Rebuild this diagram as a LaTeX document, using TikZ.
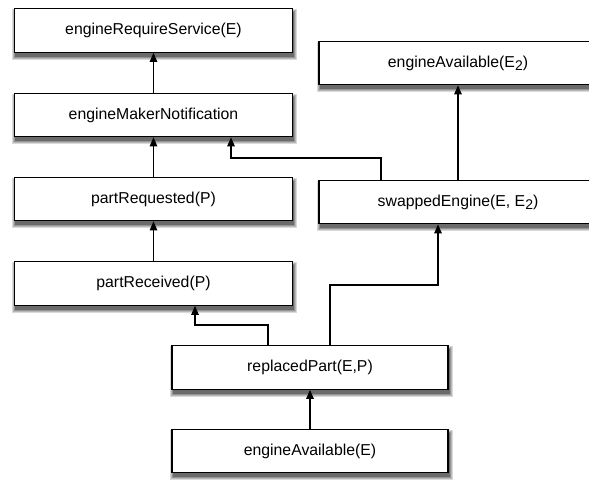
\documentclass[tikz,border=0pt]{standalone}
\usepackage{fontspec}
\setmainfont{Liberation Sans}
\usetikzlibrary{arrows.meta}
\newcommand{\subtwo}{\raisebox{-0.4ex}{\fontsize{14}{14}\selectfont 2}}
\newcommand{\boxshadow}[3]{% center x, center y, half width
  \foreach \dd/\gg in {3.5/15,2.5/28,1.5/42,0.5/58}{
    \fill[black!\gg] ({#1+1-#3-\dd},{#2+4-21.75-\dd}) rectangle ({#1+1+#3+\dd},{#2+4+21.75+\dd});
  }}
\begin{document}
\begin{tikzpicture}[x=1pt,y=-1pt,
  ev/.style={draw=black, line width=1.2pt, fill=white, rectangle,
    minimum width=278pt, minimum height=43.5pt, inner sep=0pt,
    font=\fontsize{15.8}{18}\selectfont},
  wide/.style={minimum width=276pt},
  conn/.style={line width=1.2pt, -{Triangle[length=9pt,width=7.5pt]}}]
\useasboundingbox (0,0) rectangle (589,483);
\fill[white] (0,0) rectangle (589,483);
\boxshadow{153.5}{30.5}{139}
\boxshadow{153.5}{115}{139}
\boxshadow{153.5}{199}{139}
\boxshadow{153.5}{283.5}{139}
\boxshadow{310}{367.5}{138}
\boxshadow{310}{451}{138}
\boxshadow{458}{63}{139}
\boxshadow{458}{202}{139}
\node[ev] (ers) at (153.5,30.5) {engineRequireService(E)};
\node[ev] (emn) at (153.5,115) {engineMakerNotification};
\node[ev] (preq) at (153.5,199) {partRequested(P)};
\node[ev] (prec) at (153.5,283.5) {partReceived(P)};
\node[ev,wide] (rp) at (310,367.5) {replacedPart(E,P)};
\node[ev,wide] (ea) at (310,451) {engineAvailable(E)};
\node[ev] (ea2) at (458,63) {engineAvailable(E\subtwo)};
\node[ev] (se) at (458,202) {swappedEngine(E, E\subtwo)};
\coordinate (c1) at (381,158);
\coordinate (c2) at (231,158);
\coordinate (c3) at (268,325);
\coordinate (c4) at (195,325);
\coordinate (c5) at (330,285);
\coordinate (c6) at (438,285);
\draw[conn] (emn.north) -- (ers.south);
\draw[conn] (preq.north) -- (emn.south);
\draw[conn] (prec.north) -- (preq.south);
\draw[conn] (ea.north) -- (rp.south);
\draw[conn] (se.north) -- (ea2.south);
\draw[conn] (c1 |- se.north) -- (c1) -- (c2) -- (c2 |- emn.south);
\draw[conn] (c3 |- rp.north) -- (c3) -- (c4) -- (c4 |- prec.south);
\draw[conn] (c5 |- rp.north) -- (c5) -- (c6) -- (c6 |- se.south);
\end{tikzpicture}
\end{document}
